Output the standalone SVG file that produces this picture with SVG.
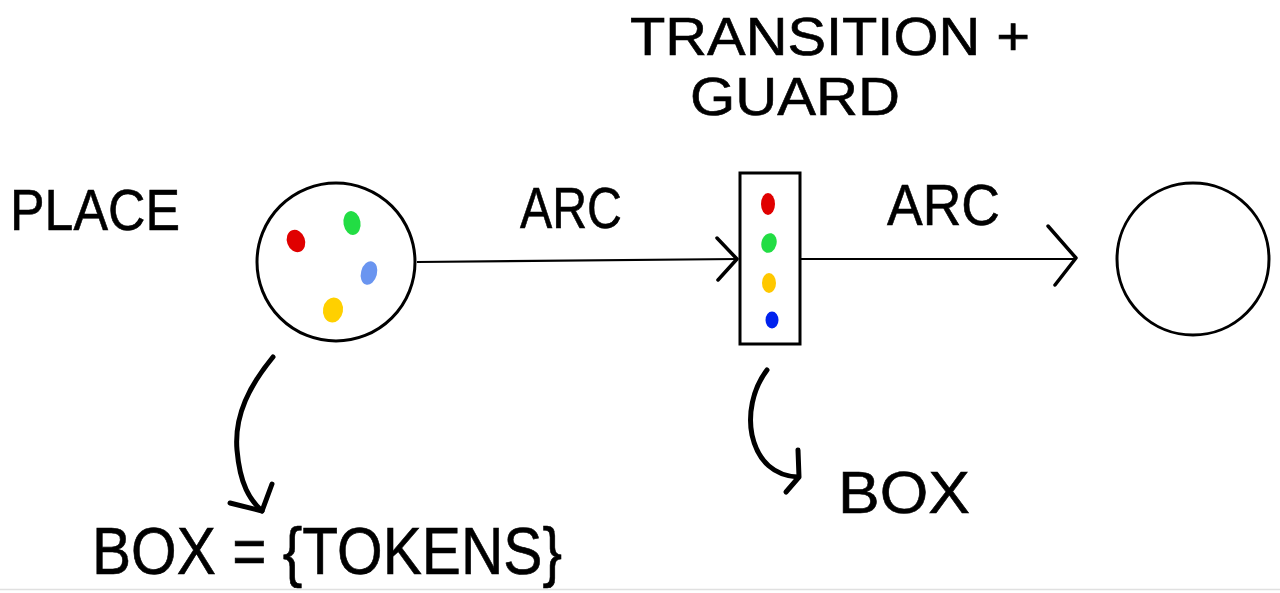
<svg xmlns="http://www.w3.org/2000/svg" width="1280" height="593" viewBox="0 0 1280 593">
<style>
.lbl{font-family:"Liberation Sans",Arial,sans-serif;fill:#000;stroke:#000;stroke-width:0.6;font-weight:normal}
.shape{fill:#fff;stroke:#000;stroke-width:3}
.conn{fill:none;stroke:#000;stroke-width:2.2}
.hand{fill:none;stroke:#000;stroke-width:5;stroke-linecap:round;stroke-linejoin:round}
</style>
<rect width="1280" height="593" fill="#fff"/>
<line x1="0" y1="589.5" x2="1280" y2="589.5" stroke="#e0e0e0" stroke-width="1.5"/>
<g id="connectors">
<path class="conn" d="M417 262 L738 259"/>
<path class="hand" style="stroke-width:3.5" d="M717 238 L737 259 L718 280"/>
<path class="conn" d="M801 259 L1076 259"/>
<path class="hand" style="stroke-width:3.5" d="M1048 226 L1076 258 L1055 285"/>
<path class="hand" d="M273 357 C250 385 234 415 237 450 C240 485 250 500 262 511"/>
<path class="hand" d="M230 503 L262 511 L272 484"/>
<path class="hand" d="M767 370 C752 390 748 415 752 435 C758 462 775 476 798 477"/>
<path class="hand" d="M798 450 L799 477 L786 492"/>
</g>
<g id="place">
<circle class="shape" cx="336" cy="262" r="79"/>
<ellipse cx="296" cy="241" rx="9" ry="11.5" fill="#e00000" transform="rotate(-20 296 241)"/>
<ellipse cx="352" cy="223" rx="8.5" ry="12" fill="#22dd44" transform="rotate(-10 352 223)"/>
<ellipse cx="369" cy="273" rx="8" ry="12" fill="#6a95f0" transform="rotate(15 369 273)"/>
<ellipse cx="333" cy="310" rx="10" ry="12.5" fill="#ffd000" transform="rotate(10 333 310)"/>
</g>
<g id="transition">
<rect class="shape" x="740" y="173" width="60" height="171"/>
<ellipse cx="768" cy="204" rx="7" ry="11" fill="#e00000"/>
<ellipse cx="769" cy="243" rx="7.5" ry="10" fill="#22dd44" transform="rotate(15 769 243)"/>
<ellipse cx="769" cy="283" rx="7" ry="10" fill="#ffc800"/>
<ellipse cx="772" cy="320" rx="6.5" ry="8.5" fill="#0022ee"/>
</g>
<g id="place2">
<circle class="shape" cx="1193" cy="259" r="76"/>
</g>
<g id="labels">
<text class="lbl" x="10" y="230" font-size="58" textLength="170" lengthAdjust="spacingAndGlyphs">PLACE</text>
<text class="lbl" x="520" y="228" font-size="58" textLength="102" lengthAdjust="spacingAndGlyphs">ARC</text>
<text class="lbl" x="887" y="225" font-size="58" textLength="113" lengthAdjust="spacingAndGlyphs">ARC</text>
<text class="lbl" x="630" y="55" font-size="54" textLength="400" lengthAdjust="spacingAndGlyphs">TRANSITION +</text>
<text class="lbl" x="690" y="115" font-size="54" textLength="210" lengthAdjust="spacingAndGlyphs">GUARD</text>
<text class="lbl" x="838" y="513" font-size="60" textLength="132" lengthAdjust="spacingAndGlyphs">BOX</text>
<text class="lbl" x="92" y="574" font-size="66" textLength="470" lengthAdjust="spacingAndGlyphs">BOX = {TOKENS}</text>
</g>
</svg>
